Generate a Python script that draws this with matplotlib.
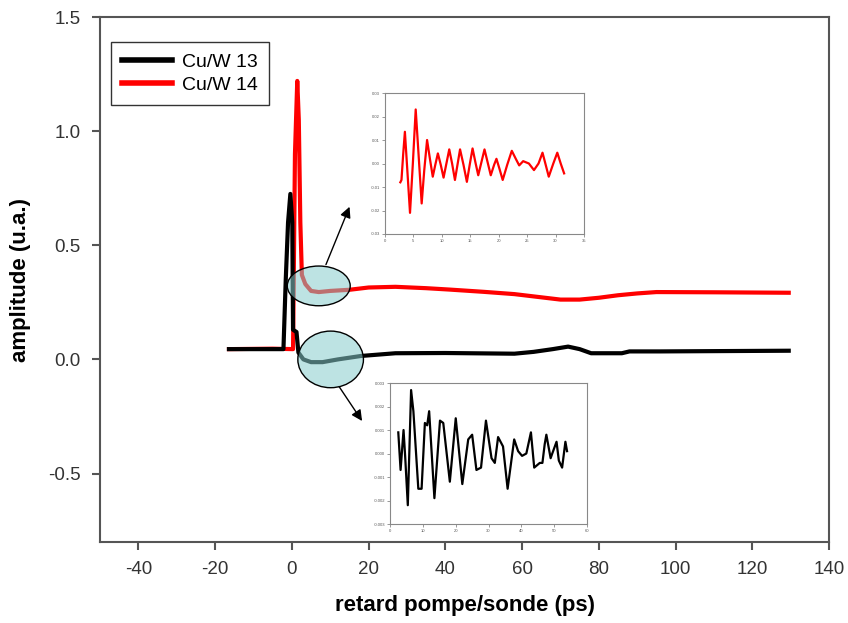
import numpy as np
import matplotlib.pyplot as plt
from matplotlib.patches import Ellipse

plt.rcParams['font.family'] = ['Liberation Sans', 'DejaVu Sans']
plt.rcParams['axes.unicode_minus'] = False

# main curves
x_cu13 = [-16.4, -2.2, -1.6, -1.0, -0.4, 0.1, 0.3, 1.2, 1.7, 3, 5, 8, 12, 18, 27,
          40, 58, 63, 68, 72, 75, 78, 86, 88, 96, 129.5]
y_cu13 = [0.045, 0.045, 0.35, 0.6, 0.725, 0.6, 0.13, 0.12, 0.03, 0.0, -0.012, -0.012,
          0.0, 0.015, 0.027, 0.028, 0.025, 0.033, 0.045, 0.056, 0.045, 0.027, 0.027,
          0.035, 0.035, 0.038]

x_cu14 = [-16.4, -5, 0.3, 0.8, 1.4, 1.8, 2.2, 2.6, 3.5, 5, 7, 10, 15, 20, 27, 35, 41,
          50, 58, 65, 70, 75, 80, 85, 90, 95, 110, 129.5]
y_cu14 = [0.045, 0.047, 0.045, 0.9, 1.22, 1.05, 0.6, 0.37, 0.33, 0.30, 0.295, 0.30,
          0.305, 0.315, 0.318, 0.312, 0.306, 0.296, 0.286, 0.272, 0.262, 0.262, 0.27,
          0.281, 0.289, 0.295, 0.294, 0.292]

# red inset (oscillations of Cu/W 14), peaks and zero crossings
x_in14 = [2.7, 2.9, 3.2, 3.5, 3.8, 4.4, 4.9, 5.4, 5.9, 6.45, 6.9, 7.4, 7.9, 8.4, 8.85,
          9.3, 9.8, 10.3, 10.8, 11.3, 11.8, 12.3, 12.75, 13.2, 13.8, 14.4, 14.9, 15.4,
          15.9, 16.4, 16.95, 17.5, 18.05, 18.6, 19.2, 19.6, 20.1, 20.7, 21.5, 22.3,
          23.0, 23.6, 24.3, 25.3, 26.2, 27.0, 27.7, 28.2, 28.8, 29.6, 30.3, 30.9, 31.5]
y_in14 = [-0.008, -0.007, 0.004, 0.0135, 0.002, -0.021, 0.0, 0.023, 0.004, -0.017,
          -0.003, 0.010, 0.002, -0.0056, -0.0005, 0.0043, -0.0005, -0.006, 0.0,
          0.006, 0.0, -0.007, -0.0005, 0.006, -0.0005, -0.0078, -0.0005, 0.0064,
          0.0005, -0.005, 0.0005, 0.006, 0.0005, -0.005, -0.0005, 0.002, -0.002,
          -0.007, -0.0005, 0.0054, 0.002, -0.0008, 0.001, 0.0, -0.0028, 0.0, 0.0046,
          0.0, -0.0056, 0.0, 0.0046, 0.0, -0.0042]

# black inset (oscillations of Cu/W 13)
x_in13 = [2.5, 3.2, 4.1, 4.6, 5.4, 6.4, 7.1, 8.6, 9.6, 10.6, 11.3, 11.9, 13.5, 15.2,
          16.2, 18.2, 20.0, 22.0, 23.8, 25.0, 26.3, 27.7, 29.2, 30.9, 31.9, 32.9, 34.4,
          35.8, 37.8, 39.0, 40.2, 41.5, 42.9, 43.9, 45.6, 46.4, 47.1, 47.6, 48.9, 49.4,
          50.7, 51.4, 52.4, 53.4, 53.9]
y_in13 = [0.0009, -0.0007, 0.001, -0.00014, -0.0022, 0.0027, 0.0018, -0.0015, -0.0015,
          0.0013, 0.0012, 0.0018, -0.0019, 0.0014, 0.0013, -0.0012, 0.0015, -0.0013,
          0.0006, 0.0008, -0.0007, -0.0006, 0.0014, -0.0002, -0.0004, 0.0007, 0.0003,
          -0.0015, 0.0006, 0.0001, -0.0001, 0.0, 0.0009, -0.0006, -0.0004, -0.0004,
          0.0004, 0.0008, -0.0002, 0.0, 0.0005, -0.0003, -0.0006, 0.0005, 0.0001]

gray = '#555555'
fig = plt.figure(figsize=(8.48, 6.23), dpi=100)
ax = fig.add_axes([0.118, 0.13, 0.8596, 0.8427])

ax.plot(x_cu13, y_cu13, color='black', lw=3, label='Cu/W 13', zorder=3)
ax.plot(x_cu14, y_cu14, color='red', lw=3, label='Cu/W 14', zorder=2)

ax.set_xlim(-50, 140)
ax.set_ylim(-0.8, 1.5)
ax.set_xticks(np.arange(-40, 141, 20))
ax.set_yticks([-0.5, 0.0, 0.5, 1.0, 1.5])
ax.set_yticklabels(['-0.5', '0.0', '0.5', '1.0', '1.5'])
ax.tick_params(direction='out', length=6, width=1.5, color=gray, labelsize=13.5,
               labelcolor='#333333', pad=8)
for s in ax.spines.values():
    s.set_color(gray)
    s.set_linewidth(1.5)
ax.set_xlabel('retard pompe/sonde (ps)', fontsize=16, fontweight='bold', labelpad=12)
ax.set_ylabel('amplitude (u.a.)', fontsize=16, fontweight='bold', labelpad=12)

leg = ax.legend(loc='upper left', bbox_to_anchor=(0.015, 0.952), borderaxespad=0,
                fontsize=14, frameon=True, fancybox=False, edgecolor='black',
                handlelength=2.6, handletextpad=0.5, borderpad=0.55, labelspacing=0.3)
leg.get_frame().set_linewidth(1)
for h in leg.get_lines():
    h.set_linewidth(4)

# highlighted regions
cyan = (0.53, 0.8, 0.8, 0.55)
ax.add_patch(Ellipse((7.0, 0.322), 16.4, 0.174, facecolor=cyan, edgecolor='black',
                     lw=1, zorder=5))
ax.add_patch(Ellipse((10.1, 0.0), 17.1, 0.248, facecolor=cyan, edgecolor='black',
                     lw=1, zorder=5))
arrow = dict(arrowstyle='-|>', color='black', lw=1, mutation_scale=16)
ax.annotate('', xy=(15.3, 0.68), xytext=(8.6, 0.404), arrowprops=arrow, zorder=6)
ax.annotate('', xy=(18.7, -0.28), xytext=(11.9, -0.109), arrowprops=arrow, zorder=6)

# insets
def style_inset(a):
    for s in a.spines.values():
        s.set_color('#888888')
        s.set_linewidth(0.8)
    a.tick_params(direction='out', length=2, width=0.6, color='#888888',
                  labelsize=3, labelcolor='#555555', pad=1.5)

ax1 = fig.add_axes([0.454, 0.6244, 0.2347, 0.2263])
ax1.plot(x_in14, y_in14, color='red', lw=1.6, solid_joinstyle='round')
ax1.set_xlim(0, 35)
ax1.set_ylim(-0.03, 0.03)
ax1.set_xticks(np.arange(0, 36, 5))
ax1.set_yticks([-0.03, -0.02, -0.01, 0.0, 0.01, 0.02, 0.03])
ax1.set_yticklabels(['-0.03', '-0.02', '-0.01', '0.00', '0.01', '0.02', '0.03'])
style_inset(ax1)

ax2 = fig.add_axes([0.46, 0.1589, 0.2323, 0.2263])
ax2.plot(x_in13, y_in13, color='black', lw=1.6, solid_joinstyle='round')
ax2.set_xlim(0, 60)
ax2.set_ylim(-0.003, 0.003)
ax2.set_xticks(np.arange(0, 61, 10))
ax2.set_yticks([-0.003, -0.002, -0.001, 0.0, 0.001, 0.002, 0.003])
ax2.set_yticklabels(['-0.003', '-0.002', '-0.001', '0.000', '0.001', '0.002', '0.003'])
style_inset(ax2)

fig.savefig('out.png', dpi=100)
